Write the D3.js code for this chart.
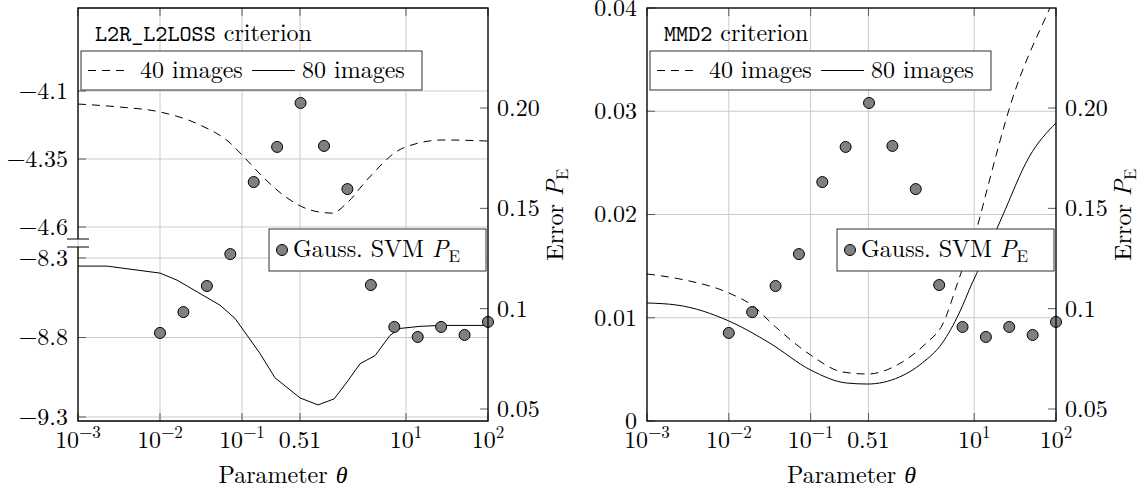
<!DOCTYPE html>
<html>
<head>
<meta charset="utf-8">
<script src="https://cdn.jsdelivr.net/npm/d3@7"></script>
<style>
  body { margin: 0; background: #fff; }
</style>
</head>
<body>
<svg id="chart" width="1144" height="488"></svg>
<script>
// ---- data ----
const thetaTicks = [1e-3, 1e-2, 1e-1, 0.51, 1e1, 1e2];
const thetaTickLabels = [["10", "−3"], ["10", "−2"], ["10", "−1"], ["0.51", null], ["10", "1"], ["10", "2"]];

// Gaussian SVM error at log-spaced parameter values (shared by both panels)
const svmTheta = [0.01, 0.0193, 0.0373, 0.0720, 0.139, 0.268, 0.518, 1.0, 1.93, 3.73, 7.20, 13.9, 26.8, 51.8, 100];
const svmError = [0.0879, 0.0983, 0.1113, 0.1272, 0.1631, 0.1806, 0.2025, 0.1811, 0.1596, 0.1118, 0.0909, 0.0859, 0.0909, 0.0869, 0.0934];

// L2R_L2LOSS criterion, 40 images (upper part of the broken axis)
const l2rTheta40 = [0.001, 0.00325, 0.01, 0.0308, 0.0715, 0.1, 0.180, 0.354, 0.675, 1.25, 1.96, 3.34, 9.19, 28.3, 100];
const l2rCrit40 = [-4.148, -4.159, -4.177, -4.225, -4.291, -4.335, -4.416, -4.493, -4.537, -4.549, -4.508, -4.427, -4.310, -4.280, -4.284];
// L2R_L2LOSS criterion, 80 images (lower part of the broken axis)
const l2rTheta80 = [0.001, 0.00226, 0.01, 0.0161, 0.054, 0.0822, 0.166, 0.252, 0.51, 0.845, 1.33, 1.96, 2.75, 4.19, 6.38, 8.45, 14.8, 26, 100];
const l2rCrit80 = [-8.351, -8.351, -8.395, -8.439, -8.597, -8.680, -8.901, -9.053, -9.180, -9.224, -9.186, -9.072, -8.965, -8.914, -8.787, -8.743, -8.730, -8.724, -8.724];

// MMD2 criterion
const mmdTheta40 = [0.001, 0.00252, 0.01, 0.0191, 0.0374, 0.1, 0.245, 0.495, 1.32, 2.6, 4.07, 6.56, 11.5, 14, 29, 82.2, 100];
const mmdCrit40 = [0.01424, 0.01375, 0.0124, 0.01123, 0.0091, 0.00639, 0.00475, 0.00455, 0.00571, 0.00755, 0.0093, 0.01385, 0.01947, 0.02208, 0.03109, 0.03981, 0.0413];
const mmdTheta80 = [0.001, 0.00232, 0.01, 0.0316, 0.1, 0.275, 0.495, 1.22, 2.32, 4.07, 6.56, 9.46, 12.5, 21.9, 46.9, 100];
const mmdCrit80 = [0.01143, 0.01123, 0.00969, 0.00755, 0.00494, 0.00368, 0.00358, 0.00426, 0.00562, 0.00755, 0.01046, 0.01337, 0.0154, 0.01976, 0.02557, 0.02886];

// axis ticks
const l2rUpperTicks = [-4.1, -4.35, -4.6];
const l2rUpperLabels = ["−4.1", "−4.35", "−4.6"];
const l2rLowerTicks = [-8.3, -8.8, -9.3];
const l2rLowerLabels = ["−8.3", "−8.8", "−9.3"];
const mmdTicks = [0, 0.01, 0.02, 0.03, 0.04];
const mmdLabels = ["0", "0.01", "0.02", "0.03", "0.04"];
const errTicks = [0.05, 0.1, 0.15, 0.20];
const errLabels = ["0.05", "0.1", "0.15", "0.20"];

// ---- layout ----
const SERIF = '"Latin Modern Roman", "Liberation Serif", serif';
const MONO = '"Latin Modern Mono", "Liberation Mono", monospace';
const svg = d3.select("#chart").style("font-family", SERIF);
const TOP = 8, BOTTOM = 421;
const GRID = "#cbcbcb", TICK = "#5a5a5a";
const FS = 24, TFS = 24, SUP = 17;

function zip(a, b) { return a.map((v, i) => [v, b[i]]); }

function makePanel(id, left, right) {
  const g = svg.append("g");
  const x = d3.scaleLog().domain([1e-3, 1e2]).range([left, right]);
  const yErr = d3.scaleLinear().domain([0.05, 0.20]).range([409, 108]);
  svg.append("clipPath").attr("id", id).append("rect")
    .attr("x", left).attr("y", TOP).attr("width", right - left).attr("height", BOTTOM - TOP);
  return { g, x, yErr, left, right, clip: `url(#${id})` };
}

function verticalGrid(p) {
  p.g.append("g").selectAll("line").data(thetaTicks).join("line")
    .attr("x1", d => p.x(d)).attr("x2", d => p.x(d))
    .attr("y1", TOP).attr("y2", BOTTOM)
    .attr("stroke", GRID).attr("stroke-width", 1);
}

function horizontalGrid(p, ticks, y) {
  p.g.append("g").selectAll("line").data(ticks).join("line")
    .attr("x1", p.left).attr("x2", p.right)
    .attr("y1", d => y(d)).attr("y2", d => y(d))
    .attr("stroke", GRID).attr("stroke-width", 1);
}

function xAxis(p) {
  const t = p.g.append("g");
  thetaTicks.forEach(d => {
    const xx = p.x(d);
    t.append("line").attr("x1", xx).attr("x2", xx).attr("y1", BOTTOM).attr("y2", BOTTOM - 8).attr("stroke", TICK);
    t.append("line").attr("x1", xx).attr("x2", xx).attr("y1", TOP).attr("y2", TOP + 8).attr("stroke", TICK);
  });
  thetaTickLabels.forEach((lab, i) => {
    const txt = t.append("text").attr("x", p.x(thetaTicks[i])).attr("y", 448)
      .attr("text-anchor", "middle").attr("font-size", TFS);
    txt.append("tspan").text(lab[0]);
    if (lab[1]) txt.append("tspan").attr("font-size", SUP).attr("dy", -10).text(lab[1]);
  });
  p.g.append("text").attr("x", (p.left + p.right) / 2).attr("y", 483)
    .attr("text-anchor", "middle").attr("font-size", FS)
    .call(s => { s.append("tspan").text("Parameter "); s.append("tspan").attr("font-style", "italic").text("θ"); });
}

function leftTicks(p, ticks, labels, y) {
  const t = p.g.append("g");
  ticks.forEach((d, i) => {
    t.append("line").attr("x1", p.left).attr("x2", p.left + 8).attr("y1", y(d)).attr("y2", y(d)).attr("stroke", TICK);
    t.append("text").attr("x", p.left - 10).attr("y", y(d)).attr("dy", "0.33em")
      .attr("text-anchor", "end").attr("font-size", TFS).text(labels[i]);
  });
}

function rightAxis(p) {
  const t = p.g.append("g");
  errTicks.forEach((d, i) => {
    t.append("line").attr("x1", p.right).attr("x2", p.right - 8).attr("y1", p.yErr(d)).attr("y2", p.yErr(d)).attr("stroke", TICK);
    t.append("text").attr("x", p.right + 9).attr("y", p.yErr(d)).attr("dy", "0.33em")
      .attr("font-size", TFS).text(errLabels[i]);
  });
  const lab = t.append("text").attr("transform", `translate(${p.right + 75},${(TOP + BOTTOM) / 2}) rotate(-90)`)
    .attr("text-anchor", "middle").attr("font-size", FS);
  lab.append("tspan").text("Error ");
  lab.append("tspan").attr("font-style", "italic").text("P");
  lab.append("tspan").attr("font-size", SUP).attr("dy", 5).text("E");
}

function svmDots(p) {
  p.g.append("g").selectAll("circle").data(zip(svmTheta, svmError)).join("circle")
    .attr("cx", d => p.x(d[0])).attr("cy", d => p.yErr(d[1])).attr("r", 5.5)
    .attr("fill", "#808080").attr("stroke", "#000").attr("stroke-width", 1);
}

function curve(p, xs, ys, y, dashed, curveType) {
  const line = d3.line().x(d => p.x(d[0])).y(d => y(d[1])).curve(curveType);
  p.g.append("path").datum(zip(xs, ys)).attr("d", line)
    .attr("clip-path", p.clip)
    .attr("fill", "none").attr("stroke", "#000").attr("stroke-width", 1)
    .attr("stroke-dasharray", dashed ? "8,6" : null);
}

function legends(p, titleMono) {
  const L = p.left;
  const t = p.g.append("g");
  const title = t.append("text").attr("x", L + 17).attr("y", 41).attr("font-size", FS);
  title.append("tspan").style("font-family", MONO).attr("font-size", 23).text(titleMono);
  title.append("tspan").text(" criterion");

  t.append("rect").attr("x", L + 3).attr("y", 51).attr("width", 341).attr("height", 39)
    .attr("fill", "#fff").attr("stroke", "#333").attr("stroke-width", 1);
  t.append("line").attr("x1", L + 10).attr("x2", L + 52).attr("y1", 70.5).attr("y2", 70.5)
    .attr("stroke", "#000").attr("stroke-dasharray", "8,6");
  t.append("text").attr("x", L + 62).attr("y", 78).attr("font-size", FS).text("40 images");
  t.append("line").attr("x1", L + 174).attr("x2", L + 217).attr("y1", 70.5).attr("y2", 70.5)
    .attr("stroke", "#000");
  t.append("text").attr("x", L + 224).attr("y", 78).attr("font-size", FS).text("80 images");

  const bx = p.right - 219;
  t.append("rect").attr("x", bx).attr("y", 229).attr("width", 217).attr("height", 42)
    .attr("fill", "#fff").attr("stroke", "#333").attr("stroke-width", 1);
  t.append("circle").attr("cx", bx + 13).attr("cy", 250).attr("r", 5.5)
    .attr("fill", "#808080").attr("stroke", "#000");
  const lt = t.append("text").attr("x", bx + 24).attr("y", 257).attr("font-size", FS);
  lt.append("tspan").text("Gauss. SVM ");
  lt.append("tspan").attr("font-style", "italic").text("P");
  lt.append("tspan").attr("font-size", SUP).attr("dy", 5).text("E");
}

// ---- left panel: L2R_L2LOSS with broken primary axis ----
const pL = makePanel("clipL", 78, 488);
const yUpper = d3.scaleLinear().domain([-4.6, -4.1]).range([227, 91]);
const yLower = d3.scaleLinear().domain([-9.3, -8.3]).range([417, 258]);
verticalGrid(pL);
horizontalGrid(pL, l2rUpperTicks, yUpper);
horizontalGrid(pL, l2rLowerTicks, yLower);
leftTicks(pL, l2rUpperTicks, l2rUpperLabels, yUpper);
leftTicks(pL, l2rLowerTicks, l2rLowerLabels, yLower);
xAxis(pL);
rightAxis(pL);
curve(pL, l2rTheta40, l2rCrit40, yUpper, true, d3.curveMonotoneX);
curve(pL, l2rTheta80, l2rCrit80, yLower, false, d3.curveLinear);
svmDots(pL);
// frame with axis discontinuity on the left
pL.g.append("path").attr("fill", "none").attr("stroke", "#000").attr("stroke-width", 1.3)
  .attr("d", `M78,239 V${TOP} H488 V${BOTTOM} H78 V247`);
pL.g.append("line").attr("x1", 67).attr("x2", 89).attr("y1", 239).attr("y2", 239).attr("stroke", "#000");
pL.g.append("line").attr("x1", 67).attr("x2", 89).attr("y1", 247).attr("y2", 247).attr("stroke", "#000");
legends(pL, "L2R_L2LOSS");

// ---- right panel: MMD2 ----
const pR = makePanel("clipR", 647, 1056);
const yMmd = d3.scaleLinear().domain([0, 0.04]).range([BOTTOM, TOP]);
verticalGrid(pR);
horizontalGrid(pR, mmdTicks, yMmd);
leftTicks(pR, mmdTicks, mmdLabels, yMmd);
xAxis(pR);
rightAxis(pR);
curve(pR, mmdTheta40, mmdCrit40, yMmd, true, d3.curveMonotoneX);
curve(pR, mmdTheta80, mmdCrit80, yMmd, false, d3.curveMonotoneX);
svmDots(pR);
pR.g.append("rect").attr("x", 647).attr("y", TOP).attr("width", 1056 - 647).attr("height", BOTTOM - TOP)
  .attr("fill", "none").attr("stroke", "#000").attr("stroke-width", 1.3);
legends(pR, "MMD2");
</script>
</body>
</html>
